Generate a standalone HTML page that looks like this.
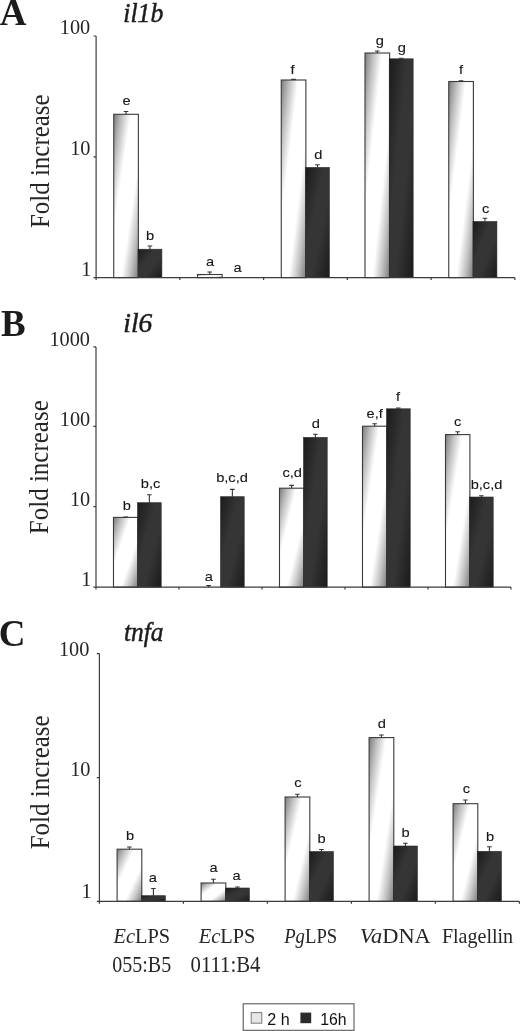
<!DOCTYPE html>
<html lang="en">
<head>
<meta charset="utf-8">
<title>Fold increase of il1b, il6 and tnfa</title>
<style>html,body{margin:0;padding:0;background:#fff}svg{display:block}</style>
</head>
<body>
<svg width="520" height="1031" viewBox="0 0 520 1031">
<defs>
<linearGradient id="lg" x1="0" y1="0" x2="1" y2="1"><stop offset="0" stop-color="#7c7c7c"/><stop offset="0.17" stop-color="#c0c0c0"/><stop offset="0.35" stop-color="#ffffff"/><stop offset="0.65" stop-color="#ffffff"/><stop offset="0.83" stop-color="#c0c0c0"/><stop offset="1" stop-color="#7c7c7c"/></linearGradient>
<linearGradient id="dg" x1="0" y1="0" x2="1" y2="1"><stop offset="0" stop-color="#1b1b1b"/><stop offset="0.38" stop-color="#353535"/><stop offset="0.62" stop-color="#353535"/><stop offset="1" stop-color="#1b1b1b"/></linearGradient>
</defs>
<rect width="520" height="1031" fill="#ffffff"/>
<g id="panelA">
<rect x="113.75" y="114.30" width="24.63" height="163.30" fill="url(#lg)" stroke="#3a3a3a" stroke-width="1.1"/>
<path d="M126.01 114.30V111.50M123.71 111.50H128.31" stroke="#333" stroke-width="1.1" fill="none"/>
<rect x="137.97" y="249.20" width="23.93" height="28.40" fill="url(#dg)" stroke="#2a2a2a" stroke-width="0.6"/>
<path d="M149.94 249.20V246.00M147.64 246.00H152.24" stroke="#333" stroke-width="1.1" fill="none"/>
<rect x="197.50" y="274.50" width="24.63" height="3.10" fill="url(#lg)" stroke="#3a3a3a" stroke-width="1.1"/>
<path d="M209.76 274.50V272.00M207.46 272.00H212.06" stroke="#333" stroke-width="1.1" fill="none"/>
<rect x="281.25" y="80.00" width="24.63" height="197.60" fill="url(#lg)" stroke="#3a3a3a" stroke-width="1.1"/>
<path d="M293.51 80.00V79.40M291.21 79.40H295.81" stroke="#333" stroke-width="1.1" fill="none"/>
<rect x="305.48" y="167.40" width="23.93" height="110.20" fill="url(#dg)" stroke="#2a2a2a" stroke-width="0.6"/>
<path d="M317.44 167.40V164.80M315.14 164.80H319.74" stroke="#333" stroke-width="1.1" fill="none"/>
<rect x="365.00" y="53.00" width="24.63" height="224.60" fill="url(#lg)" stroke="#3a3a3a" stroke-width="1.1"/>
<path d="M377.26 53.00V51.00M374.96 51.00H379.56" stroke="#333" stroke-width="1.1" fill="none"/>
<rect x="389.23" y="58.80" width="23.93" height="218.80" fill="url(#dg)" stroke="#2a2a2a" stroke-width="0.6"/>
<path d="M401.19 58.80V58.20M398.89 58.20H403.49" stroke="#333" stroke-width="1.1" fill="none"/>
<rect x="448.75" y="81.50" width="24.63" height="196.10" fill="url(#lg)" stroke="#3a3a3a" stroke-width="1.1"/>
<path d="M461.01 81.50V80.90M458.71 80.90H463.31" stroke="#333" stroke-width="1.1" fill="none"/>
<rect x="472.98" y="221.50" width="23.93" height="56.10" fill="url(#dg)" stroke="#2a2a2a" stroke-width="0.6"/>
<path d="M484.94 221.50V218.30M482.64 218.30H487.24" stroke="#333" stroke-width="1.1" fill="none"/>
<path d="M96.10 36.00V277.60H514.85M93.50 36.00H96.10M93.50 156.90H96.10M93.50 277.60H96.10M96.10 277.60V280.00M179.85 277.60V280.00M263.60 277.60V280.00M347.35 277.60V280.00M431.10 277.60V280.00M514.85 277.60V280.00" stroke="#3c3c3c" stroke-width="1.2" fill="none"/>
<text x="90.2" y="33.8" text-anchor="end" font-family="'Liberation Serif', 'DejaVu Serif', serif" font-size="20.3" fill="#262626">100</text>
<text x="90.5" y="155.1" text-anchor="end" font-family="'Liberation Serif', 'DejaVu Serif', serif" font-size="20.3" fill="#262626">10</text>
<text x="91.3" y="276.2" text-anchor="end" font-family="'Liberation Serif', 'DejaVu Serif', serif" font-size="20.3" fill="#262626">1</text>
<text transform="translate(126.6 104.6) scale(1.18 1)" text-anchor="middle" font-family="'Liberation Sans', 'DejaVu Sans', sans-serif" font-size="12.4" fill="#151515" stroke="#151515" stroke-width="0.1">e</text>
<text transform="translate(150.0 240.0) scale(1.18 1)" text-anchor="middle" font-family="'Liberation Sans', 'DejaVu Sans', sans-serif" font-size="12.4" fill="#151515" stroke="#151515" stroke-width="0.1">b</text>
<text transform="translate(210.0 266.0) scale(1.18 1)" text-anchor="middle" font-family="'Liberation Sans', 'DejaVu Sans', sans-serif" font-size="12.4" fill="#151515" stroke="#151515" stroke-width="0.1">a</text>
<text transform="translate(237.5 271.7) scale(1.18 1)" text-anchor="middle" font-family="'Liberation Sans', 'DejaVu Sans', sans-serif" font-size="12.4" fill="#151515" stroke="#151515" stroke-width="0.1">a</text>
<text transform="translate(292.6 74.4) scale(1.18 1)" text-anchor="middle" font-family="'Liberation Sans', 'DejaVu Sans', sans-serif" font-size="12.4" fill="#151515" stroke="#151515" stroke-width="0.1">f</text>
<text transform="translate(318.2 158.7) scale(1.18 1)" text-anchor="middle" font-family="'Liberation Sans', 'DejaVu Sans', sans-serif" font-size="12.4" fill="#151515" stroke="#151515" stroke-width="0.1">d</text>
<text transform="translate(379.8 44.7) scale(1.18 1)" text-anchor="middle" font-family="'Liberation Sans', 'DejaVu Sans', sans-serif" font-size="12.4" fill="#151515" stroke="#151515" stroke-width="0.1">g</text>
<text transform="translate(401.8 51.8) scale(1.18 1)" text-anchor="middle" font-family="'Liberation Sans', 'DejaVu Sans', sans-serif" font-size="12.4" fill="#151515" stroke="#151515" stroke-width="0.1">g</text>
<text transform="translate(461.0 74.2) scale(1.18 1)" text-anchor="middle" font-family="'Liberation Sans', 'DejaVu Sans', sans-serif" font-size="12.4" fill="#151515" stroke="#151515" stroke-width="0.1">f</text>
<text transform="translate(485.7 213.0) scale(1.18 1)" text-anchor="middle" font-family="'Liberation Sans', 'DejaVu Sans', sans-serif" font-size="12.4" fill="#151515" stroke="#151515" stroke-width="0.1">c</text>
<text x="-0.3" y="25.0" font-family="'Liberation Serif', 'DejaVu Serif', serif" font-weight="bold" font-size="37" fill="#1c1c1c">A</text>
<text x="123.3" y="21.5" font-family="'Liberation Serif', 'DejaVu Serif', serif" font-style="italic" font-size="27.5" stroke="#1c1c1c" stroke-width="0.5" textLength="40.0" lengthAdjust="spacingAndGlyphs" fill="#1c1c1c">il1b</text>
<text transform="translate(48.9 228.0) rotate(-90)" font-family="'Liberation Serif', 'DejaVu Serif', serif" font-size="27.5" textLength="133.6" lengthAdjust="spacingAndGlyphs" fill="#262626">Fold increase</text>
</g>
<g id="panelB">
<rect x="113.49" y="517.40" width="24.41" height="69.80" fill="url(#lg)" stroke="#3a3a3a" stroke-width="1.1"/>
<path d="M125.64 517.40V517.00M123.34 517.00H127.94" stroke="#333" stroke-width="1.1" fill="none"/>
<rect x="137.50" y="502.70" width="23.71" height="84.50" fill="url(#dg)" stroke="#2a2a2a" stroke-width="0.6"/>
<path d="M149.36 502.70V494.80M147.06 494.80H151.66" stroke="#333" stroke-width="1.1" fill="none"/>
<path d="M208.64 587.20V585.60M206.34 585.60H210.94" stroke="#333" stroke-width="1.1" fill="none"/>
<rect x="220.50" y="496.70" width="23.71" height="90.50" fill="url(#dg)" stroke="#2a2a2a" stroke-width="0.6"/>
<path d="M232.36 496.70V489.40M230.06 489.40H234.66" stroke="#333" stroke-width="1.1" fill="none"/>
<rect x="279.49" y="488.20" width="24.41" height="99.00" fill="url(#lg)" stroke="#3a3a3a" stroke-width="1.1"/>
<path d="M291.64 488.20V485.40M289.34 485.40H293.94" stroke="#333" stroke-width="1.1" fill="none"/>
<rect x="303.50" y="437.40" width="23.71" height="149.80" fill="url(#dg)" stroke="#2a2a2a" stroke-width="0.6"/>
<path d="M315.36 437.40V434.30M313.06 434.30H317.66" stroke="#333" stroke-width="1.1" fill="none"/>
<rect x="362.49" y="426.20" width="24.41" height="161.00" fill="url(#lg)" stroke="#3a3a3a" stroke-width="1.1"/>
<path d="M374.64 426.20V423.80M372.34 423.80H376.94" stroke="#333" stroke-width="1.1" fill="none"/>
<rect x="386.50" y="408.80" width="23.71" height="178.40" fill="url(#dg)" stroke="#2a2a2a" stroke-width="0.6"/>
<path d="M398.36 408.80V408.00M396.06 408.00H400.66" stroke="#333" stroke-width="1.1" fill="none"/>
<rect x="445.49" y="434.60" width="24.41" height="152.60" fill="url(#lg)" stroke="#3a3a3a" stroke-width="1.1"/>
<path d="M457.64 434.60V431.70M455.34 431.70H459.94" stroke="#333" stroke-width="1.1" fill="none"/>
<rect x="469.50" y="497.00" width="23.71" height="90.20" fill="url(#dg)" stroke="#2a2a2a" stroke-width="0.6"/>
<path d="M481.36 497.00V495.70M479.06 495.70H483.66" stroke="#333" stroke-width="1.1" fill="none"/>
<path d="M96.00 346.90V587.20H511.00M93.40 346.90H96.00M93.40 426.40H96.00M93.40 506.70H96.00M93.40 587.20H96.00M96.00 587.20V589.60M179.00 587.20V589.60M262.00 587.20V589.60M345.00 587.20V589.60M428.00 587.20V589.60M511.00 587.20V589.60" stroke="#3c3c3c" stroke-width="1.2" fill="none"/>
<text x="90.0" y="346.0" text-anchor="end" font-family="'Liberation Serif', 'DejaVu Serif', serif" font-size="20.3" fill="#262626">1000</text>
<text x="90.2" y="425.8" text-anchor="end" font-family="'Liberation Serif', 'DejaVu Serif', serif" font-size="20.3" fill="#262626">100</text>
<text x="90.2" y="505.8" text-anchor="end" font-family="'Liberation Serif', 'DejaVu Serif', serif" font-size="20.3" fill="#262626">10</text>
<text x="91.3" y="586.2" text-anchor="end" font-family="'Liberation Serif', 'DejaVu Serif', serif" font-size="20.3" fill="#262626">1</text>
<text transform="translate(126.8 510.0) scale(1.18 1)" text-anchor="middle" font-family="'Liberation Sans', 'DejaVu Sans', sans-serif" font-size="12.4" fill="#151515" stroke="#151515" stroke-width="0.1">b</text>
<text transform="translate(150.6 487.7) scale(1.18 1)" text-anchor="middle" font-family="'Liberation Sans', 'DejaVu Sans', sans-serif" font-size="12.4" fill="#151515" stroke="#151515" stroke-width="0.1">b,c</text>
<text transform="translate(208.7 580.8) scale(1.18 1)" text-anchor="middle" font-family="'Liberation Sans', 'DejaVu Sans', sans-serif" font-size="12.4" fill="#151515" stroke="#151515" stroke-width="0.1">a</text>
<text transform="translate(232.0 482.0) scale(1.18 1)" text-anchor="middle" font-family="'Liberation Sans', 'DejaVu Sans', sans-serif" font-size="12.4" fill="#151515" stroke="#151515" stroke-width="0.1">b,c,d</text>
<text transform="translate(292.2 477.4) scale(1.18 1)" text-anchor="middle" font-family="'Liberation Sans', 'DejaVu Sans', sans-serif" font-size="12.4" fill="#151515" stroke="#151515" stroke-width="0.1">c,d</text>
<text transform="translate(315.8 427.7) scale(1.18 1)" text-anchor="middle" font-family="'Liberation Sans', 'DejaVu Sans', sans-serif" font-size="12.4" fill="#151515" stroke="#151515" stroke-width="0.1">d</text>
<text transform="translate(374.7 418.0) scale(1.18 1)" text-anchor="middle" font-family="'Liberation Sans', 'DejaVu Sans', sans-serif" font-size="12.4" fill="#151515" stroke="#151515" stroke-width="0.1">e,f</text>
<text transform="translate(398.0 400.8) scale(1.18 1)" text-anchor="middle" font-family="'Liberation Sans', 'DejaVu Sans', sans-serif" font-size="12.4" fill="#151515" stroke="#151515" stroke-width="0.1">f</text>
<text transform="translate(457.7 426.0) scale(1.18 1)" text-anchor="middle" font-family="'Liberation Sans', 'DejaVu Sans', sans-serif" font-size="12.4" fill="#151515" stroke="#151515" stroke-width="0.1">c</text>
<text transform="translate(486.5 489.0) scale(1.18 1)" text-anchor="middle" font-family="'Liberation Sans', 'DejaVu Sans', sans-serif" font-size="12.4" fill="#151515" stroke="#151515" stroke-width="0.1">b,c,d</text>
<text x="1.0" y="336.3" font-family="'Liberation Serif', 'DejaVu Serif', serif" font-weight="bold" font-size="37" fill="#1c1c1c">B</text>
<text x="123.3" y="331.5" font-family="'Liberation Serif', 'DejaVu Serif', serif" font-style="italic" font-size="27.5" stroke="#1c1c1c" stroke-width="0.5" textLength="29.0" lengthAdjust="spacingAndGlyphs" fill="#1c1c1c">il6</text>
<text transform="translate(48.3 534.2) rotate(-90)" font-family="'Liberation Serif', 'DejaVu Serif', serif" font-size="27.5" textLength="134.0" lengthAdjust="spacingAndGlyphs" fill="#262626">Fold increase</text>
</g>
<g id="panelC">
<rect x="117.10" y="849.20" width="24.70" height="52.10" fill="url(#lg)" stroke="#3a3a3a" stroke-width="1.1"/>
<path d="M129.40 849.20V847.00M127.10 847.00H131.70" stroke="#333" stroke-width="1.1" fill="none"/>
<rect x="141.40" y="895.70" width="24.00" height="5.60" fill="url(#dg)" stroke="#2a2a2a" stroke-width="0.6"/>
<path d="M153.40 895.70V888.50M151.10 888.50H155.70" stroke="#333" stroke-width="1.1" fill="none"/>
<rect x="201.10" y="883.00" width="24.70" height="18.30" fill="url(#lg)" stroke="#3a3a3a" stroke-width="1.1"/>
<path d="M213.40 883.00V879.20M211.10 879.20H215.70" stroke="#333" stroke-width="1.1" fill="none"/>
<rect x="225.40" y="888.00" width="24.00" height="13.30" fill="url(#dg)" stroke="#2a2a2a" stroke-width="0.6"/>
<path d="M237.40 888.00V887.00M235.10 887.00H239.70" stroke="#333" stroke-width="1.1" fill="none"/>
<rect x="285.10" y="797.00" width="24.70" height="104.30" fill="url(#lg)" stroke="#3a3a3a" stroke-width="1.1"/>
<path d="M297.40 797.00V794.20M295.10 794.20H299.70" stroke="#333" stroke-width="1.1" fill="none"/>
<rect x="309.40" y="851.50" width="24.00" height="49.80" fill="url(#dg)" stroke="#2a2a2a" stroke-width="0.6"/>
<path d="M321.40 851.50V849.50M319.10 849.50H323.70" stroke="#333" stroke-width="1.1" fill="none"/>
<rect x="369.10" y="737.60" width="24.70" height="163.70" fill="url(#lg)" stroke="#3a3a3a" stroke-width="1.1"/>
<path d="M381.40 737.60V735.00M379.10 735.00H383.70" stroke="#333" stroke-width="1.1" fill="none"/>
<rect x="393.40" y="846.00" width="24.00" height="55.30" fill="url(#dg)" stroke="#2a2a2a" stroke-width="0.6"/>
<path d="M405.40 846.00V843.30M403.10 843.30H407.70" stroke="#333" stroke-width="1.1" fill="none"/>
<rect x="453.10" y="803.70" width="24.70" height="97.60" fill="url(#lg)" stroke="#3a3a3a" stroke-width="1.1"/>
<path d="M465.40 803.70V800.00M463.10 800.00H467.70" stroke="#333" stroke-width="1.1" fill="none"/>
<rect x="477.40" y="851.30" width="24.00" height="50.00" fill="url(#dg)" stroke="#2a2a2a" stroke-width="0.6"/>
<path d="M489.40 851.30V846.70M487.10 846.70H491.70" stroke="#333" stroke-width="1.1" fill="none"/>
<path d="M99.40 653.60V901.30H519.40M96.80 653.60H99.40M96.80 777.60H99.40M96.80 901.30H99.40M99.40 901.30V903.70M183.40 901.30V903.70M267.40 901.30V903.70M351.40 901.30V903.70M435.40 901.30V903.70M519.40 901.30V903.70" stroke="#3c3c3c" stroke-width="1.2" fill="none"/>
<text x="89.3" y="655.5" text-anchor="end" font-family="'Liberation Serif', 'DejaVu Serif', serif" font-size="20.3" fill="#262626">100</text>
<text x="90.5" y="776.0" text-anchor="end" font-family="'Liberation Serif', 'DejaVu Serif', serif" font-size="20.3" fill="#262626">10</text>
<text x="91.7" y="897.9" text-anchor="end" font-family="'Liberation Serif', 'DejaVu Serif', serif" font-size="20.3" fill="#262626">1</text>
<text transform="translate(130.0 840.3) scale(1.18 1)" text-anchor="middle" font-family="'Liberation Sans', 'DejaVu Sans', sans-serif" font-size="12.4" fill="#151515" stroke="#151515" stroke-width="0.1">b</text>
<text transform="translate(152.8 881.5) scale(1.18 1)" text-anchor="middle" font-family="'Liberation Sans', 'DejaVu Sans', sans-serif" font-size="12.4" fill="#151515" stroke="#151515" stroke-width="0.1">a</text>
<text transform="translate(213.5 872.3) scale(1.18 1)" text-anchor="middle" font-family="'Liberation Sans', 'DejaVu Sans', sans-serif" font-size="12.4" fill="#151515" stroke="#151515" stroke-width="0.1">a</text>
<text transform="translate(236.5 880.0) scale(1.18 1)" text-anchor="middle" font-family="'Liberation Sans', 'DejaVu Sans', sans-serif" font-size="12.4" fill="#151515" stroke="#151515" stroke-width="0.1">a</text>
<text transform="translate(298.0 787.0) scale(1.18 1)" text-anchor="middle" font-family="'Liberation Sans', 'DejaVu Sans', sans-serif" font-size="12.4" fill="#151515" stroke="#151515" stroke-width="0.1">c</text>
<text transform="translate(321.6 843.0) scale(1.18 1)" text-anchor="middle" font-family="'Liberation Sans', 'DejaVu Sans', sans-serif" font-size="12.4" fill="#151515" stroke="#151515" stroke-width="0.1">b</text>
<text transform="translate(381.9 727.7) scale(1.18 1)" text-anchor="middle" font-family="'Liberation Sans', 'DejaVu Sans', sans-serif" font-size="12.4" fill="#151515" stroke="#151515" stroke-width="0.1">d</text>
<text transform="translate(405.6 836.7) scale(1.18 1)" text-anchor="middle" font-family="'Liberation Sans', 'DejaVu Sans', sans-serif" font-size="12.4" fill="#151515" stroke="#151515" stroke-width="0.1">b</text>
<text transform="translate(466.3 793.4) scale(1.18 1)" text-anchor="middle" font-family="'Liberation Sans', 'DejaVu Sans', sans-serif" font-size="12.4" fill="#151515" stroke="#151515" stroke-width="0.1">c</text>
<text transform="translate(490.0 841.0) scale(1.18 1)" text-anchor="middle" font-family="'Liberation Sans', 'DejaVu Sans', sans-serif" font-size="12.4" fill="#151515" stroke="#151515" stroke-width="0.1">b</text>
<text x="-1.2" y="646.0" font-family="'Liberation Serif', 'DejaVu Serif', serif" font-weight="bold" font-size="37" fill="#1c1c1c">C</text>
<text x="124.0" y="640.8" font-family="'Liberation Serif', 'DejaVu Serif', serif" font-style="italic" font-size="27.5" stroke="#1c1c1c" stroke-width="0.5" textLength="39.5" lengthAdjust="spacingAndGlyphs" fill="#1c1c1c">tnfa</text>
<text transform="translate(48.9 849.3) rotate(-90)" font-family="'Liberation Serif', 'DejaVu Serif', serif" font-size="27.5" textLength="134.0" lengthAdjust="spacingAndGlyphs" fill="#262626">Fold increase</text>
</g>
<text x="113.6" y="942.9" font-family="'Liberation Serif', 'DejaVu Serif', serif" font-size="21.5" textLength="56.6" lengthAdjust="spacingAndGlyphs" fill="#262626"><tspan font-style="italic">Ec</tspan>LPS</text>
<text x="112.3" y="972.3" font-family="'Liberation Serif', 'DejaVu Serif', serif" font-size="23" textLength="58.9" lengthAdjust="spacingAndGlyphs" fill="#262626">055:B5</text>
<text x="198.7" y="942.9" font-family="'Liberation Serif', 'DejaVu Serif', serif" font-size="21.5" textLength="56.6" lengthAdjust="spacingAndGlyphs" fill="#262626"><tspan font-style="italic">Ec</tspan>LPS</text>
<text x="190.5" y="972.3" font-family="'Liberation Serif', 'DejaVu Serif', serif" font-size="23" textLength="70.0" lengthAdjust="spacingAndGlyphs" fill="#262626">0111:B4</text>
<text x="284.2" y="942.9" font-family="'Liberation Serif', 'DejaVu Serif', serif" font-size="21.5" textLength="53.0" lengthAdjust="spacingAndGlyphs" fill="#262626"><tspan font-style="italic">Pg</tspan>LPS</text>
<text x="359.8" y="942.9" font-family="'Liberation Serif', 'DejaVu Serif', serif" font-size="21.5" textLength="71.0" lengthAdjust="spacingAndGlyphs" fill="#262626"><tspan font-style="italic">Va</tspan>DNA</text>
<text x="441.9" y="942.9" font-family="'Liberation Serif', 'DejaVu Serif', serif" font-size="21.5" textLength="71.2" lengthAdjust="spacingAndGlyphs" fill="#262626">Flagellin</text>
<rect x="243.2" y="1003.8" width="110.8" height="26.5" fill="#ffffff" stroke="#5a5a5a" stroke-width="1.1"/>
<rect x="251.2" y="1012.6" width="10.6" height="10.6" fill="#e6e6e6" stroke="#7a7a7a" stroke-width="1"/>
<text x="267.3" y="1025" font-family="'Liberation Sans', 'DejaVu Sans', sans-serif" font-size="16.1" fill="#111">2 h</text>
<rect x="300.4" y="1012.6" width="10.8" height="10.6" fill="#2b2b2b"/>
<text x="320.3" y="1025" font-family="'Liberation Sans', 'DejaVu Sans', sans-serif" font-size="15.8" fill="#111">16h</text>
</svg>
</body>
</html>
